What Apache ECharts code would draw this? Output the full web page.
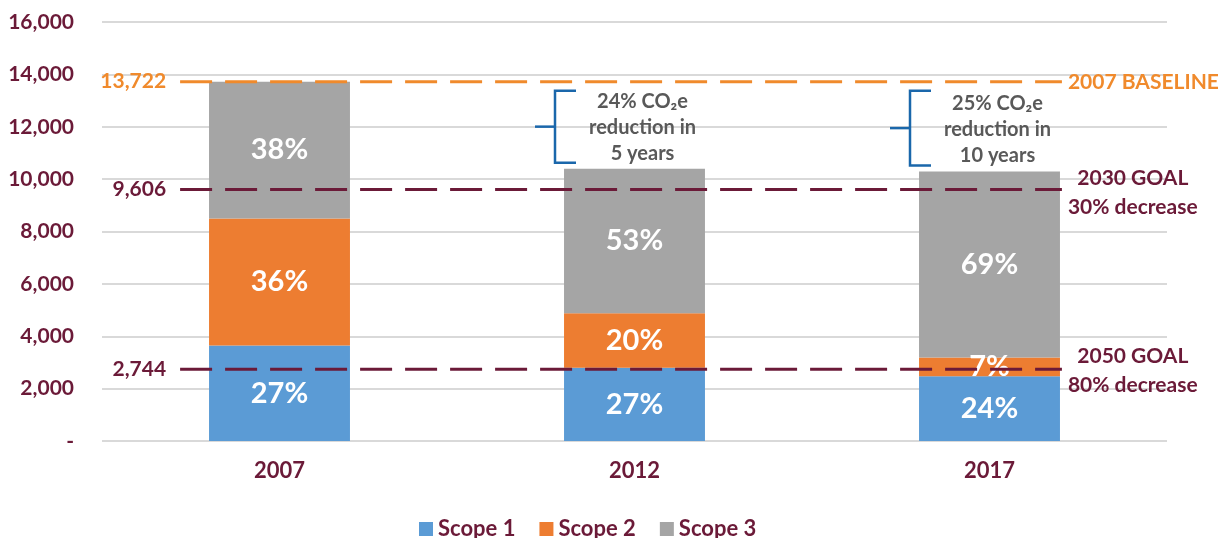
<!DOCTYPE html>
<html><head><meta charset="utf-8">
<script src="https://cdn.jsdelivr.net/npm/echarts@6/dist/echarts.min.js"></script>
<style>html,body{margin:0;padding:0;background:#fff}#c{width:1222px;height:538px}</style>
</head><body><div id="c"></div>
<script>
var categories = ['2007', '2012', '2017'];
var scope1 = [3650, 2800, 2470];
var scope2 = [4850, 2080, 720];
var scope3 = [5222, 5520, 7100];
var scope1Pct = ['27%', '27%', '24%'];
var scope2Pct = ['36%', '20%', '7%'];
var scope3Pct = ['38%', '53%', '69%'];
var baseline = 13722;
var goal2030 = 9606;
var goal2050 = 2744;
var yTicks = [0, 2000, 4000, 6000, 8000, 10000, 12000, 14000, 16000];
var reductionNotes = [
  {cat: 1, pct: '24%', years: '5 years'},
  {cat: 2, pct: '25%', years: '10 years'}
];

var MAROON = '#6b1a38';
var ORANGE = '#f08a2c';
var FONT = 'Lato';
var totals = scope1.map(function (v, i) { return v + scope2[i] + scope3[i]; });

function fmt(v) { return v === 0 ? '-' : v.toLocaleString('en-US'); }

function refLine(name, value, color, rightText, dy) {
  return {
    name: name, type: 'line', xAxisIndex: 1, yAxisIndex: 0, symbol: 'circle', symbolSize: 0,
    showSymbol: true, silent: true,
    lineStyle: {color: color, width: 3, type: [32, 13]},
    itemStyle: {color: color},
    z: 5,
    data: [
      {value: [-0.28, value], label: {show: true, position: 'left', distance: 14, formatter: fmt(value),
        color: color, fontFamily: FONT, fontWeight: 'bold', fontSize: 21}},
      {value: [2.204, value], label: {show: true, position: 'right', distance: 6, offset: [0, dy], formatter: rightText,
        color: color, fontFamily: FONT, fontWeight: 'bold', fontSize: 21, lineHeight: 29, align: 'left',
        rich: {c: {color: color, fontFamily: FONT, fontWeight: 'bold', fontSize: 21, lineHeight: 29, align: 'center'}}}}
    ]
  };
}

function barSeries(name, data, pcts, color) {
  return {
    name: name, type: 'bar', stack: 'total', barWidth: '39.7%', xAxisIndex: 0,
    itemStyle: {color: color},
    label: {show: true, position: 'inside', color: '#fff', fontFamily: FONT, fontWeight: 'bold', fontSize: 29,
      formatter: function (p) { return pcts[p.dataIndex]; }},
    data: data
  };
}

var chart = echarts.init(document.getElementById('c'), null, {renderer: 'canvas'});
chart.setOption({
  animation: false,
  grid: {left: 102, right: 55, top: 22, bottom: 97},
  legend: {
    data: ['Scope 1', 'Scope 2', 'Scope 3'], left: 414, top: 513, itemWidth: 14, itemHeight: 14, itemGap: 24,
    icon: 'rect',
    textStyle: {color: MAROON, fontFamily: FONT, fontWeight: 'bold', fontSize: 22}
  },
  xAxis: [
    {type: 'category', data: categories, axisLine: {show: false}, axisTick: {show: false},
      axisLabel: {color: MAROON, fontFamily: FONT, fontWeight: 'bold', fontSize: 22, margin: 19}},
    {type: 'value', min: -0.5, max: 2.5, show: false}
  ],
  yAxis: {
    type: 'value', min: 0, max: 16000, interval: 2000,
    axisLabel: {color: MAROON, fontFamily: FONT, fontWeight: 'bold', fontSize: 21, margin: 28,
      formatter: function (v) { return yTicks.indexOf(v) >= 0 ? fmt(v) : ''; }},
    splitLine: {lineStyle: {color: '#d9d9d9', width: 2}},
    axisLine: {show: false}, axisTick: {show: false}
  },
  series: [
    barSeries('Scope 1', scope1, scope1Pct, '#5b9bd5'),
    barSeries('Scope 2', scope2, scope2Pct, '#ed7d31'),
    barSeries('Scope 3', scope3, scope3Pct, '#a5a5a5'),
    refLine('baseline', baseline, ORANGE, '2007 BASELINE', 1),
    refLine('goal2030', goal2030, MAROON, '{c|2030 GOAL}\n{c|30% decrease}', 3),
    refLine('goal2050', goal2050, MAROON, '{c|2050 GOAL}\n{c|80% decrease}', 2),
    {
      name: 'notes', type: 'custom', xAxisIndex: 1, yAxisIndex: 0, silent: true, z: 6,
      data: reductionNotes.map(function (n) { return [n.cat, baseline, totals[n.cat]]; }),
      renderItem: function (params, api) {
        var n = reductionNotes[params.dataIndex];
        var c = api.value(0);
        var top = api.coord([c - 0.225, api.value(1)]);
        var bot = api.coord([c - 0.225, api.value(2)]);
        var center = api.coord([c, api.value(2)]);
        var x = Math.round(top[0]);
        var y1 = top[1] + 9, y2 = bot[1] - 6, ym = (y1 + y2) / 2;
        var ls = {stroke: '#1a67ab', lineWidth: 2.5, fill: null};
        return {
          type: 'group',
          children: [
            {type: 'polyline', shape: {points: [[x + 21, y1], [x, y1], [x, y2], [x + 21, y2]]}, style: ls},
            {type: 'line', shape: {x1: x - 20, y1: ym, x2: x, y2: ym}, style: ls},
            {type: 'text', x: center[0] + 8, y: ym + 1, style: {
              text: n.pct + ' CO₂e\nreduction in\n' + n.years,
              fill: '#595959', font: 'bold 20px ' + FONT, lineHeight: 26,
              align: 'center', verticalAlign: 'middle'}}
          ]
        };
      }
    }
  ]
});
</script></body></html>
